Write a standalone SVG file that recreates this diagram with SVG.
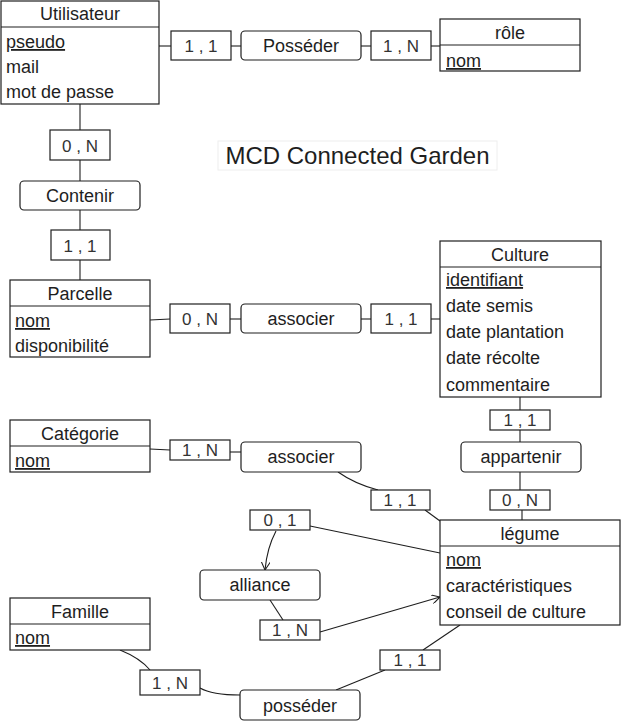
<svg xmlns="http://www.w3.org/2000/svg" width="621" height="721" viewBox="0 0 621 721">
<defs>
<style>
.ent rect, .rel rect, .card rect { fill:#fff; stroke:#1e1e1e; stroke-width:1.2; }
.ent line { stroke:#1e1e1e; stroke-width:1.2; }
text { font-family:"Liberation Sans", Arial, sans-serif; fill:#1e1e1e; font-size:18px; }
.t { text-anchor:middle; }
.a { text-anchor:start; }
.k { text-decoration:underline; }
.c { text-anchor:middle; font-size:17px; fill:#333; }
#connectors path, #connectors line { fill:none; stroke:#1e1e1e; stroke-width:1.1; }
</style>
<marker id="arr" viewBox="0 0 10 10" refX="9" refY="5" markerWidth="9" markerHeight="9" orient="auto" markerUnits="userSpaceOnUse">
<path d="M0,0 L9,5 L0,10" fill="none" stroke="#1e1e1e" stroke-width="1.2"/>
</marker>
</defs>
<rect width="621" height="721" fill="#fff"/>

<g id="connectors">
<line x1="159" y1="46" x2="171" y2="46"/>
<line x1="231" y1="46" x2="241" y2="46"/>
<line x1="361" y1="46" x2="371" y2="46"/>
<line x1="431" y1="46" x2="440" y2="46"/>
<line x1="80" y1="104" x2="80" y2="130"/>
<line x1="80" y1="160" x2="80" y2="181"/>
<line x1="80" y1="210" x2="80" y2="230"/>
<line x1="80" y1="260" x2="80" y2="280"/>
<line x1="150" y1="320" x2="170" y2="319"/>
<line x1="230" y1="319" x2="241" y2="319"/>
<line x1="361" y1="319" x2="371" y2="319"/>
<line x1="431" y1="319" x2="440" y2="319"/>
<line x1="520" y1="397" x2="520" y2="410"/>
<line x1="520" y1="430" x2="520" y2="442"/>
<line x1="520" y1="472" x2="520" y2="490"/>
<line x1="522" y1="510" x2="522" y2="520"/>
<line x1="150" y1="449" x2="170" y2="450"/>
<line x1="230" y1="452" x2="241" y2="452"/>
<path d="M338,472 Q355,484 378,490"/>
<line x1="425" y1="510" x2="440" y2="521"/>
<line x1="310" y1="526" x2="440" y2="553"/>
<path d="M276,531 Q267,548 265,570" marker-end="url(#arr)"/>
<line x1="270" y1="600" x2="283" y2="620"/>
<line x1="320" y1="632" x2="440" y2="597" marker-end="url(#arr)"/>
<path d="M120,650 Q140,658 150,670"/>
<path d="M200,688 Q212,695 240,695"/>
<line x1="336" y1="690" x2="385" y2="670"/>
<line x1="423" y1="650" x2="460" y2="625"/>
</g>

<g id="title">
<rect x="218" y="141" width="279" height="29" fill="none" stroke="#eee" stroke-width="1"/>
<text x="357.5" y="164" class="t" style="font-size:24px">MCD Connected Garden</text>
</g>

<g id="utilisateur" class="ent">
<rect x="1" y="1" width="158" height="103"/>
<line x1="1" y1="27" x2="159" y2="27"/>
<text x="80" y="20" class="t">Utilisateur</text>
<text x="6" y="48" class="a k">pseudo</text>
<text x="6" y="73" class="a">mail</text>
<text x="6" y="98" class="a">mot de passe</text>
</g>

<g id="role" class="ent">
<rect x="440" y="19" width="140" height="52"/>
<line x1="440" y1="45" x2="580" y2="45"/>
<text x="510" y="39" class="t">rôle</text>
<text x="446" y="67" class="a k">nom</text>
</g>

<g id="parcelle" class="ent">
<rect x="10" y="280" width="140" height="77"/>
<line x1="10" y1="306" x2="150" y2="306"/>
<text x="80" y="300" class="t">Parcelle</text>
<text x="15" y="327" class="a k">nom</text>
<text x="15" y="352" class="a">disponibilité</text>
</g>

<g id="culture" class="ent">
<rect x="440" y="241" width="161" height="156"/>
<line x1="440" y1="267" x2="601" y2="267"/>
<text x="520" y="261" class="t">Culture</text>
<text x="446" y="286" class="a k">identifiant</text>
<text x="446" y="312" class="a">date semis</text>
<text x="446" y="338" class="a">date plantation</text>
<text x="446" y="364" class="a">date récolte</text>
<text x="446" y="391" class="a">commentaire</text>
</g>

<g id="categorie" class="ent">
<rect x="10" y="420" width="140" height="52"/>
<line x1="10" y1="446" x2="150" y2="446"/>
<text x="80" y="440" class="t">Catégorie</text>
<text x="15" y="467" class="a k">nom</text>
</g>

<g id="legume" class="ent">
<rect x="440" y="520" width="180" height="105"/>
<line x1="440" y1="546" x2="620" y2="546"/>
<text x="530" y="540" class="t">légume</text>
<text x="446" y="566" class="a k">nom</text>
<text x="446" y="592" class="a">caractéristiques</text>
<text x="446" y="618" class="a">conseil de culture</text>
</g>

<g id="famille" class="ent">
<rect x="10" y="598" width="140" height="52"/>
<line x1="10" y1="624" x2="150" y2="624"/>
<text x="80" y="618" class="t">Famille</text>
<text x="15" y="644" class="a k">nom</text>
</g>

<g id="rel-posseder1" class="rel">
<rect x="241" y="31" width="120" height="29" rx="4"/>
<text x="301" y="52" class="t">Posséder</text>
</g>
<g id="rel-contenir" class="rel">
<rect x="20" y="181" width="120" height="29" rx="4"/>
<text x="80" y="202" class="t">Contenir</text>
</g>
<g id="rel-associer1" class="rel">
<rect x="241" y="304" width="120" height="29" rx="4"/>
<text x="301" y="325" class="t">associer</text>
</g>
<g id="rel-appartenir" class="rel">
<rect x="461" y="442" width="120" height="30" rx="4"/>
<text x="521" y="463" class="t">appartenir</text>
</g>
<g id="rel-associer2" class="rel">
<rect x="241" y="442" width="120" height="30" rx="4"/>
<text x="301" y="463" class="t">associer</text>
</g>
<g id="rel-alliance" class="rel">
<rect x="200" y="570" width="120" height="30" rx="4"/>
<text x="260" y="591" class="t">alliance</text>
</g>
<g id="rel-posseder2" class="rel">
<rect x="240" y="690" width="120" height="30" rx="4"/>
<text x="300" y="712" class="t">posséder</text>
</g>

<g id="card-u-p" class="card"><rect x="171" y="31" width="60" height="29"/><text x="201" y="52" class="c">1 , 1</text></g>
<g id="card-p-r" class="card"><rect x="371" y="31" width="60" height="29"/><text x="401" y="52" class="c">1 , N</text></g>
<g id="card-u-c" class="card"><rect x="50" y="130" width="60" height="30"/><text x="80" y="152" class="c">0 , N</text></g>
<g id="card-c-p" class="card"><rect x="51" y="230" width="59" height="30"/><text x="80" y="252" class="c">1 , 1</text></g>
<g id="card-pa-a" class="card"><rect x="170" y="304" width="60" height="29"/><text x="200" y="325" class="c">0 , N</text></g>
<g id="card-a-cu" class="card"><rect x="371" y="304" width="60" height="29"/><text x="401" y="325" class="c">1 , 1</text></g>
<g id="card-cu-ap" class="card"><rect x="490" y="410" width="60" height="20"/><text x="520" y="426" class="c">1 , 1</text></g>
<g id="card-ap-l" class="card"><rect x="490" y="490" width="60" height="20"/><text x="520" y="506" class="c">0 , N</text></g>
<g id="card-ca-a" class="card"><rect x="170" y="440" width="60" height="20"/><text x="200" y="456" class="c">1 , N</text></g>
<g id="card-a-l" class="card"><rect x="371" y="490" width="59" height="20"/><text x="400" y="506" class="c">1 , 1</text></g>
<g id="card-al-01" class="card"><rect x="250" y="510" width="60" height="20"/><text x="280" y="526" class="c">0 , 1</text></g>
<g id="card-al-1n" class="card"><rect x="260" y="620" width="60" height="20"/><text x="290" y="636" class="c">1 , N</text></g>
<g id="card-f-p" class="card"><rect x="140" y="670" width="60" height="25"/><text x="170" y="689" class="c">1 , N</text></g>
<g id="card-p-l" class="card"><rect x="380" y="650" width="60" height="20"/><text x="410" y="666" class="c">1 , 1</text></g>
</svg>
